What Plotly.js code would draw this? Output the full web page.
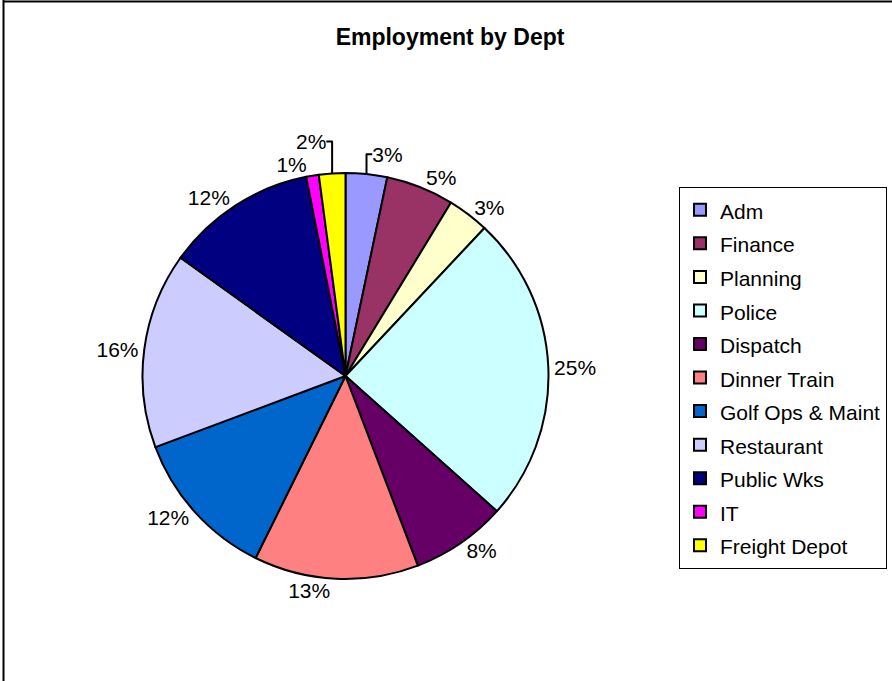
<!DOCTYPE html>
<html>
<head>
<meta charset="utf-8">
<script src="https://cdn.plot.ly/plotly-3.0.1.min.js"></script>
<style>
  html, body { margin: 0; padding: 0; background: #ffffff; }
  #chart { width: 892px; height: 681px; }
</style>
</head>
<body>
<div id="chart"></div>
<script>
// Departments (legend order, clockwise from 12 o'clock)
const departments = ["Adm", "Finance", "Planning", "Police", "Dispatch", "Dinner Train",
  "Golf Ops & Maint", "Restaurant", "Public Wks", "IT", "Freight Depot"];
// Share of employment (%)
const shares = [3.3, 5.4, 3.3, 24.6, 7.6, 13.1, 12.0, 15.6, 12.0, 1.0, 2.1];
// Slice colours
const sliceColors = ["#9999FF", "#993366", "#FFFFCC", "#CCFFFF", "#660066", "#FF8080",
  "#0066CC", "#CCCCFF", "#000080", "#FF00FF", "#FFFF00"];
const chartTitle = "Employment by Dept";

const FONT = "Liberation Sans, Arial, sans-serif";

const trace = {
  type: "pie",
  labels: departments.map(d => '<span style="font-size:21px">' + d + '</span>'),
  values: shares,
  sort: false,
  direction: "clockwise",
  rotation: 0,
  marker: { colors: sliceColors, line: { color: "#000000", width: 2 } },
  textposition: "outside",
  texttemplate: "%{percent:.0%}",
  outsidetextfont: { family: FONT, size: 21, color: "#000000" },
  textfont: { family: FONT, size: 21, color: "#000000" },
  domain: { x: [0.15975, 0.61491], y: [0.14978, 0.74596] },
  hoverinfo: "label+percent",
  automargin: false
};

const layout = {
  width: 892,
  height: 681,
  margin: { l: 0, r: 0, t: 0, b: 0, pad: 0, autoexpand: false },
  paper_bgcolor: "#ffffff",
  plot_bgcolor: "#ffffff",
  font: { family: FONT, color: "#000000" },
  title: {
    text: "<b>" + chartTitle + "</b>",
    font: { family: FONT, size: 23, color: "#000000" },
    x: 0.5045, xref: "container", xanchor: "center",
    y: 1 - 37 / 681, yref: "container", yanchor: "middle"
  },
  showlegend: true,
  legend: {
    x: 679 / 892, xanchor: "left",
    y: 1 - 187 / 681, yanchor: "top",
    bgcolor: "#ffffff",
    bordercolor: "#000000",
    borderwidth: 1,
    font: { family: FONT, size: 23.5, color: "#000000" },
    itemwidth: 30,
    traceorder: "normal"
  },
  shapes: [
    { type: "line", xref: "paper", yref: "paper", x0: 3.5 / 892, x1: 3.5 / 892, y0: 0, y1: 1,
      line: { color: "#000000", width: 2 } },
    { type: "line", xref: "paper", yref: "paper", x0: 3 / 892, x1: 1, y0: 1 - 1.5 / 681, y1: 1 - 1.5 / 681,
      line: { color: "#000000", width: 2 } }
  ]
};

Plotly.newPlot("chart", [trace], layout, { displayModeBar: false, staticPlot: true });
</script>
</body>
</html>
